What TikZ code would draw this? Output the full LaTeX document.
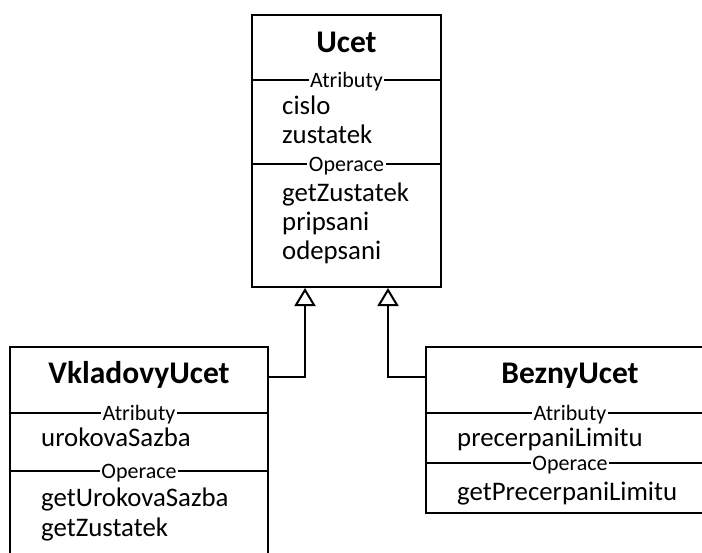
\documentclass[tikz,border=0pt]{standalone}
\usepackage{fontspec}
\setmainfont{Carlito}
\usetikzlibrary{arrows.meta,calc}

\tikzset{
	classbox/.style={draw, line width=2pt, inner sep=0pt},
	classname/.style={anchor=base, inner sep=0pt, font=\fontsize{31.5}{38}\selectfont\bfseries},
	member/.style={anchor=base west, inner sep=0pt, font=\fontsize{26.8}{32}\selectfont},
	sectline/.style={line width=1.3pt},
	secttitle/.style={anchor=base, fill=white, inner xsep=1.5pt, inner ysep=0pt, font=\fontsize{22}{26}\selectfont},
	inherit/.style={line width=2pt, -{Triangle[open, length=18pt, width=21pt, line width=2pt]}}
}

\begin{document}
\begin{tikzpicture}[x=1pt, y=-1pt]
	%%%%% START %%%%%
	\useasboundingbox (0, 0) rectangle (702, 552);
	\clip (0, 0) rectangle (702, 552);
	
	% Ucet
	\node[classbox, minimum width=189pt, minimum height=272pt] (ucet) at (346.5, 151) {};
	\node[classname] (ucetname) at (346.5, 52) {Ucet};
	\draw[sectline] (ucet.west |- 0, 80) -- (ucet.east |- 0, 80);
	\node[secttitle] (ucetattr) at (346.5, 87) {Atributy};
	\node[member] (cislo) at (282, 114) {cislo};
	\node[member] (zustatek) at (282, 143) {zustatek};
	\draw[sectline] (ucet.west |- 0, 164) -- (ucet.east |- 0, 164);
	\node[secttitle] (ucetop) at (346.5, 171) {Operace};
	\node[member] (getzust) at (282, 201) {getZustatek};
	\node[member] (pripsani) at (282, 230) {pripsani};
	\node[member] (odepsani) at (282, 259) {odepsani};
	
	% VkladovyUcet
	\node[classbox, minimum width=258pt, minimum height=215pt] (vklad) at (139, 454.5) {};
	\node[classname] (vkladname) at (139, 383) {VkladovyUcet};
	\draw[sectline] (vklad.west |- 0, 413) -- (vklad.east |- 0, 413);
	\node[secttitle] (vkladattr) at (139, 420) {Atributy};
	\node[member] (sazba) at (41, 446) {urokovaSazba};
	\draw[sectline] (vklad.west |- 0, 471) -- (vklad.east |- 0, 471);
	\node[secttitle] (vkladop) at (139, 478) {Operace};
	\node[member] (getsazba) at (41, 506) {getUrokovaSazba};
	\node[member] (getzust2) at (41, 536) {getZustatek};
	
	% BeznyUcet
	\node[classbox, minimum width=288pt, minimum height=166pt] (bezny) at (570, 430) {};
	\node[classname] (beznyname) at (570, 383) {BeznyUcet};
	\draw[sectline] (bezny.west |- 0, 413) -- (bezny.east |- 0, 413);
	\node[secttitle] (beznyattr) at (570, 420) {Atributy};
	\node[member] (limit) at (457, 446) {precerpaniLimitu};
	\draw[sectline] (bezny.west |- 0, 463) -- (bezny.east |- 0, 463);
	\node[secttitle] (beznyop) at (570, 470) {Operace};
	\node[member] (getlimit) at (457, 500) {getPrecerpaniLimitu};
	
	% generalisation
	\coordinate (u1) at ($(ucet.south)+(-41.5, 0)$);
	\coordinate (u2) at ($(ucet.south)+(41.5, 0)$);
	\draw[inherit] ($(vklad.north east)+(0, 31)$) -| (u1);
	\draw[inherit] ($(bezny.north west)+(0, 31)$) -| (u2);
	%%%%% END %%%%%
\end{tikzpicture}
\end{document}
